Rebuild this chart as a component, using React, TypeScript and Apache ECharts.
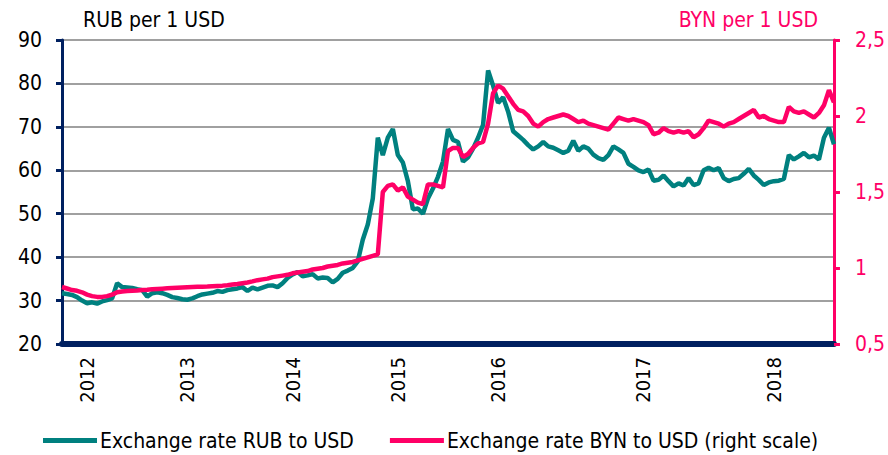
import React, { useEffect, useRef } from "react";
import * as echarts from "echarts";

// x positions: one point every ~5px across the plot (Jan 2012 .. mid 2018)
const rubToUsd = [
  31.7, 31.5, 31.3, 30.8, 30.0, 29.4, 29.6, 29.3, 29.8, 30.1, 30.5, 34.0, 33.1, 33.0, 32.9, 32.6,
  32.4, 30.9, 31.7, 31.9, 31.7, 31.3, 30.8, 30.6, 30.3, 30.2, 30.5, 31.0, 31.4, 31.6, 31.8, 32.2,
  32.0, 32.4, 32.6, 32.8, 33.1, 32.2, 33.0, 32.6, 33.0, 33.4, 33.5, 33.1, 34.0, 35.2, 36.0, 36.6,
  35.6, 35.8, 36.1, 35.1, 35.3, 35.2, 34.2, 35.0, 36.4, 36.9, 37.5, 39.0, 44.0, 47.5, 53.5, 67.5,
  63.5, 67.5, 69.5, 63.5, 61.8, 57.5, 51.0, 51.2, 50.0, 53.5, 55.8, 58.5, 62.0, 69.5, 67.0, 66.5,
  62.0, 63.0, 65.0, 67.5, 70.5, 83.0, 79.5, 75.5, 76.8, 73.5, 69.0, 68.0, 67.0, 65.8, 64.8, 65.5,
  66.5, 65.5, 65.2, 64.6, 64.0, 64.5, 66.8, 64.5, 65.5, 65.0, 63.6, 62.8, 62.4, 63.5, 65.5, 64.8,
  64.0, 61.5, 60.8, 60.0, 59.6, 60.2, 57.6, 57.8, 58.8, 57.5, 56.3, 57.0, 56.5, 58.2, 56.6, 57.0,
  60.0, 60.6, 60.0, 60.5, 58.2, 57.5, 58.0, 58.2, 59.2, 60.3, 58.8, 57.8, 56.6, 57.2, 57.5, 57.6,
  58.0, 63.5, 62.5, 63.2, 64.0, 63.0, 63.4, 62.5, 67.5, 69.8, 66.0,
];

const bynToUsd = [
  0.875, 0.865, 0.855, 0.85, 0.84, 0.825, 0.815, 0.81, 0.81, 0.815, 0.825, 0.84, 0.845, 0.848, 0.85, 0.852,
  0.855, 0.857, 0.86, 0.862, 0.864, 0.866, 0.868, 0.87, 0.872, 0.874, 0.875, 0.876, 0.877, 0.878, 0.88, 0.882,
  0.884, 0.887, 0.891, 0.895, 0.9, 0.905, 0.912, 0.92, 0.925, 0.93, 0.94, 0.945, 0.95, 0.955, 0.965, 0.97,
  0.975, 0.98, 0.99, 0.995, 1.0, 1.01, 1.015, 1.02, 1.03, 1.035, 1.04, 1.05, 1.06, 1.07, 1.08, 1.09,
  1.5, 1.54, 1.55, 1.51, 1.53, 1.47, 1.45, 1.43, 1.42, 1.55, 1.55, 1.54, 1.53, 1.77, 1.79, 1.79,
  1.73, 1.75, 1.79, 1.82, 1.83, 1.95, 2.15, 2.2, 2.18, 2.13, 2.08, 2.04, 2.03, 2.0, 1.95, 1.93,
  1.96, 1.98, 1.99, 2.0, 2.01, 2.0, 1.98, 1.96, 1.97, 1.95, 1.94, 1.93, 1.92, 1.91, 1.95, 1.99,
  1.98, 1.97, 1.98, 1.97, 1.96, 1.94, 1.88, 1.89, 1.92, 1.9, 1.89, 1.9, 1.89, 1.9, 1.86, 1.88,
  1.92, 1.97, 1.96, 1.95, 1.93, 1.95, 1.96, 1.98, 2.0, 2.02, 2.04, 1.99, 2.0, 1.98, 1.97, 1.96,
  1.96, 2.06, 2.03, 2.02, 2.03, 2.01, 1.99, 2.02, 2.07, 2.17, 2.09,
];

const yearLabels = ["2012", "2013", "2014", "2015", "2016", "2017", "2018"];
const yearLabelIndex = [5, 25, 46, 67, 87, 116, 142];

const leftTicks = { min: 20, max: 90, interval: 10 };
const rightTicks = { min: 0.5, max: 2.5, interval: 0.5 };

const FONT = "'DejaVu Sans Condensed', 'DejaVu Sans', sans-serif";
const TEAL = "#00807f";
const PINK = "#ff0066";
const NAVY = "#002060";

export default function App() {
  const ref = useRef<HTMLDivElement>(null);
  useEffect(() => {
    if (!ref.current) return;
    const chart = echarts.init(ref.current, undefined, { renderer: "svg" });
    const categories = rubToUsd.map((_, i) => {
      const k = yearLabelIndex.indexOf(i);
      return k >= 0 ? yearLabels[k] : "";
    });
    chart.setOption({
      animation: false,
      textStyle: { fontFamily: FONT },
      grid: { left: 62, right: 54, top: 40, height: 304, containLabel: false },
      graphic: [
        {
          type: "text",
          left: 83,
          top: 9,
          style: { text: "RUB per 1 USD", font: `21px ${FONT}`, fill: "#000" },
        },
        {
          type: "text",
          right: 70,
          top: 9,
          style: { text: "BYN per 1 USD", font: `21px ${FONT}`, fill: PINK },
        },
      ],
      legend: {
        left: 43,
        top: 430,
        padding: 0,
        icon: "rect",
        itemWidth: 54,
        itemHeight: 5,
        itemGap: 36,
        textStyle: { fontFamily: FONT, fontSize: 21, color: "#000", padding: [0, 0, 0, -2] },
        data: ["Exchange rate RUB to USD", "Exchange rate BYN to USD (right scale)"],
      },
      xAxis: {
        type: "category",
        data: categories,
        boundaryGap: false,
        axisLine: { show: true, lineStyle: { color: NAVY, width: 6 } },
        axisTick: { show: false },
        axisLabel: {
          rotate: 90,
          interval: (index: number) => yearLabelIndex.indexOf(index) >= 0,
          margin: 13,
          fontSize: 20,
          color: "#000",
          fontFamily: FONT,
        },
        splitLine: { show: false },
      },
      yAxis: [
        {
          type: "value",
          position: "left",
          min: leftTicks.min,
          max: leftTicks.max,
          interval: leftTicks.interval,
          axisLine: { show: true, lineStyle: { color: NAVY, width: 3 } },
          axisTick: { show: true, inside: false, length: 6, lineStyle: { color: NAVY, width: 3 } },
          axisLabel: { margin: 20, fontSize: 21, color: "#000", fontFamily: FONT },
          splitLine: { show: true, lineStyle: { color: "#a0a0a0", width: 2 } },
        },
        {
          type: "value",
          position: "right",
          min: rightTicks.min,
          max: rightTicks.max,
          interval: rightTicks.interval,
          axisLine: { show: true, lineStyle: { color: PINK, width: 3 } },
          axisTick: { show: true, inside: false, length: 6, lineStyle: { color: PINK, width: 3 } },
          axisLabel: {
            margin: 21,
            fontSize: 21,
            color: PINK,
            fontFamily: FONT,
            formatter: (v: number) => String(v).replace(".", ","),
          },
          splitLine: { show: false },
        },
      ],
      series: [
        {
          name: "Exchange rate RUB to USD",
          type: "line",
          yAxisIndex: 0,
          data: rubToUsd,
          symbol: "none",
          lineStyle: { color: TEAL, width: 4.5 },
          itemStyle: { color: TEAL },
        },
        {
          name: "Exchange rate BYN to USD (right scale)",
          type: "line",
          yAxisIndex: 1,
          data: bynToUsd,
          symbol: "none",
          lineStyle: { color: PINK, width: 4.5 },
          itemStyle: { color: PINK },
        },
      ],
    });
    return () => chart.dispose();
  }, []);
  return (
    <div
      ref={ref}
      style={{ position: "absolute", left: 0, top: 0, width: 888, height: 455 }}
    />
  );
}
